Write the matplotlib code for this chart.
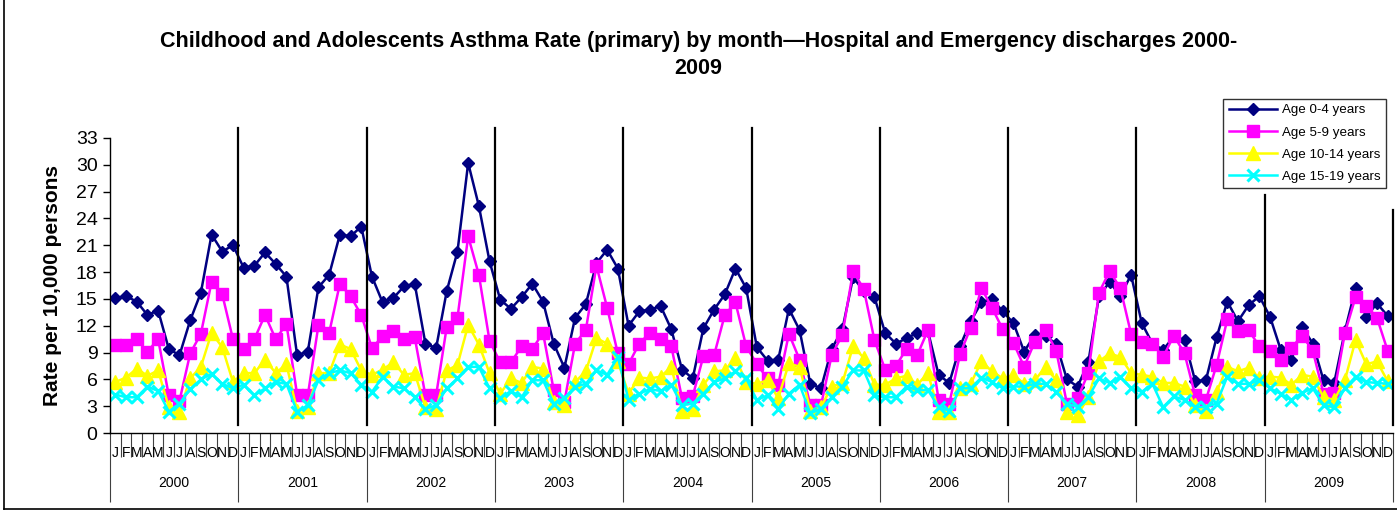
"""
儿童及青少年哮喘率(按月) 2000-2009 折线图
"""
import numpy as np
import matplotlib
matplotlib.use('Agg')
from matplotlib import pyplot as plt
from matplotlib.lines import Line2D

plt.rcParams['font.family'] = ['Liberation Sans', 'DejaVu Sans']

# 数据
years = ['2000', '2001', '2002', '2003', '2004', '2005', '2006', '2007', '2008', '2009']
monthLetters = ['J', 'F', 'M', 'A', 'M', 'J', 'J', 'A', 'S', 'O', 'N', 'D']
seriesNames = ['Age 0-4 years', 'Age 5-9 years', 'Age 10-14 years', 'Age 15-19 years']
yTicks = [0, 3, 6, 9, 12, 15, 18, 21, 24, 27, 30, 33]

age0_4 = [
    15.1, 15.3, 14.7, 13.2, 13.7, 9.4, 8.7, 12.6, 15.7, 22.2, 20.3, 21.0,
    18.5, 18.7, 20.2, 18.9, 17.5, 8.7, 9.1, 16.3, 17.7, 22.2, 22.0, 23.1,
    17.5, 14.6, 15.1, 16.4, 16.7, 10.0, 9.5, 15.9, 20.3, 30.2, 25.4, 19.2,
    14.9, 13.9, 15.2, 16.7, 14.7, 10.0, 7.3, 12.9, 14.4, 19.0, 20.5, 18.4,
    12.0, 13.6, 13.8, 14.2, 11.6, 7.1, 6.1, 11.7, 13.8, 15.5, 18.4, 16.2,
    9.6, 8.1, 8.2, 13.9, 11.5, 5.5, 5.0, 9.4, 11.6, 17.4, 15.9, 15.2,
    11.2, 10.0, 10.6, 11.2, 11.4, 6.5, 5.6, 9.7, 12.5, 14.6, 15.0, 13.6,
    12.3, 9.1, 11.0, 10.8, 10.0, 6.0, 5.2, 7.9, 15.3, 16.9, 15.3, 17.7,
    12.3, 10.0, 9.3, 10.8, 10.4, 5.8, 5.9, 10.7, 14.7, 12.5, 14.3, 15.3,
    13.0, 9.3, 8.2, 11.9, 10.0, 5.9, 5.6, 11.4, 16.2, 13.0, 14.5, 13.1,
]
age5_9 = [
    9.9, 9.8, 10.5, 9.1, 10.5, 4.2, 3.6, 8.9, 11.1, 16.9, 15.5, 10.5,
    9.4, 10.5, 13.2, 10.5, 12.2, 4.3, 4.2, 12.1, 11.2, 16.7, 15.3, 13.2,
    9.5, 10.8, 11.4, 10.5, 10.7, 4.2, 4.2, 11.9, 12.9, 22.0, 17.7, 10.3,
    7.9, 7.9, 9.7, 9.4, 11.2, 4.8, 3.5, 10.0, 11.5, 18.7, 14.0, 8.9,
    7.7, 10.0, 11.2, 10.5, 9.7, 3.9, 4.1, 8.6, 8.7, 13.2, 14.6, 9.7,
    7.7, 6.1, 5.4, 11.1, 8.2, 3.1, 3.1, 8.7, 11.0, 18.1, 16.1, 10.4,
    7.1, 7.5, 9.4, 8.7, 11.5, 3.7, 3.3, 8.8, 11.8, 16.2, 14.0, 11.6,
    10.1, 7.4, 10.2, 11.5, 9.2, 3.3, 3.9, 6.7, 15.7, 18.1, 16.2, 11.1,
    10.2, 10.0, 8.5, 10.9, 8.9, 4.2, 3.7, 7.6, 12.7, 11.4, 11.5, 9.7,
    9.2, 8.2, 9.5, 10.9, 9.2, 4.4, 4.5, 11.2, 15.2, 14.2, 12.9, 9.2,
]
age10_14 = [
    5.7, 6.2, 7.2, 6.4, 7.0, 2.9, 2.4, 6.1, 7.4, 11.2, 9.6, 5.7,
    6.7, 6.7, 8.2, 6.7, 7.7, 2.5, 2.9, 6.7, 6.7, 9.9, 9.4, 7.0,
    6.5, 7.1, 7.9, 6.5, 6.7, 2.9, 2.7, 7.0, 7.6, 12.1, 9.9, 6.7,
    4.4, 6.1, 5.6, 7.4, 7.2, 3.5, 3.1, 5.7, 6.9, 10.6, 10.0, 8.0,
    4.4, 6.2, 6.1, 6.3, 7.4, 2.5, 2.7, 5.4, 6.9, 7.0, 8.4, 5.7,
    5.5, 5.9, 3.9, 7.8, 7.4, 2.5, 2.9, 5.2, 5.6, 9.7, 8.4, 5.4,
    5.4, 6.1, 6.4, 5.4, 6.7, 2.4, 2.4, 5.0, 5.5, 8.0, 6.9, 6.1,
    6.5, 5.5, 5.9, 7.4, 5.9, 2.4, 2.0, 4.0, 8.0, 8.9, 8.5, 6.7,
    6.5, 6.3, 5.6, 5.6, 5.2, 3.1, 2.5, 4.6, 7.4, 6.9, 7.3, 6.1,
    6.3, 6.2, 5.4, 6.5, 6.3, 4.0, 3.7, 5.9, 10.4, 7.7, 8.0, 5.8,
]
age15_19 = [
    4.3, 4.0, 4.0, 5.2, 4.7, 2.4, 3.3, 4.9, 6.0, 6.6, 5.5, 5.0,
    5.4, 4.2, 5.0, 5.7, 5.5, 2.4, 3.1, 5.9, 6.7, 7.0, 6.7, 5.4,
    4.6, 6.3, 5.2, 5.0, 4.0, 2.7, 3.1, 5.0, 6.1, 7.4, 7.4, 5.0,
    3.9, 4.7, 4.0, 5.9, 5.9, 3.3, 3.9, 5.2, 5.5, 7.0, 6.5, 8.5,
    3.7, 4.4, 4.9, 4.7, 5.4, 3.1, 3.3, 4.4, 5.7, 6.1, 6.9, 6.1,
    3.7, 4.2, 2.7, 4.4, 5.4, 2.2, 2.7, 4.0, 5.2, 7.0, 7.0, 4.2,
    4.0, 4.0, 5.2, 4.8, 4.8, 2.9, 2.5, 5.0, 5.0, 6.2, 5.7, 5.0,
    5.2, 5.2, 5.5, 5.5, 4.6, 3.3, 2.9, 4.0, 6.1, 5.6, 6.3, 5.0,
    4.6, 5.5, 2.9, 4.1, 3.7, 2.9, 2.9, 3.3, 6.3, 5.5, 5.5, 5.9,
    5.0, 4.4, 3.7, 4.5, 5.0, 3.1, 2.9, 5.0, 6.3, 5.7, 5.6, 5.5,
]

# 样式
styles = [
    dict(color='#000080', marker='D', ms=6.5),
    dict(color='#FF00FF', marker='s', ms=9),
    dict(color='#FFFF00', marker='^', ms=9.5),
    dict(color='#00FFFF', marker='x', ms=9, mew=2.2),
]

fig = plt.figure(figsize=(13.97, 5.12), dpi=100)
ax = fig.add_axes([110 / 1397, 1 - 433 / 512, 1283 / 1397, 295 / 512])

nMonth = len(years) * 12
x = np.arange(nMonth)
for name, vals, st in zip(seriesNames, [age0_4, age5_9, age10_14, age15_19], styles):
    ax.plot(x, vals, lw=1.8, label=name, **st)

ax.set_xlim(-0.5, nMonth - 0.5)
ax.set_ylim(0, 33)
ax.set_yticks(yTicks)
ax.tick_params(axis='y', labelsize=14, length=5, width=1, direction='out', pad=4)
ax.set_ylabel('Rate per 10,000 persons', fontsize=15, fontweight='bold', labelpad=10)

for sp in ['top', 'right']:
    ax.spines[sp].set_visible(False)
ax.spines['left'].set_linewidth(1)
ax.spines['bottom'].set_linewidth(1)

# 横轴: 月份 + 年份两级标签
yearEdges = np.arange(0, nMonth + 1, 12) - 0.5
monthEdges = [e for e in np.arange(nMonth + 1) - 0.5 if e not in yearEdges]
ax.set_xticks(yearEdges)
ax.set_xticks(monthEdges, minor=True)
ax.tick_params(axis='x', which='major', length=50, width=0.8, color='#404040', labelbottom=False)
ax.tick_params(axis='x', which='minor', length=17, width=0.8, color='#404040', labelbottom=False)
trans = ax.get_xaxis_transform()
for i in range(nMonth):
    ax.text(i, -0.068, monthLetters[i % 12], transform=trans, ha='center', va='center',
            fontsize=10, clip_on=False)
for k, yr in enumerate(years):
    ax.text(k * 12 + 5.5, -0.17, yr, transform=trans, ha='center', va='center',
            fontsize=10, clip_on=False)

# 年份分隔线 (手绘竖线)
for k in range(1, len(years) + 1):
    top = 34.1
    if k == len(years) - 1:
        top = 26.6
    elif k == len(years):
        top = 25.0
    ax.plot([k * 12 - 0.5, k * 12 - 0.5], [0.9, top], color='black', lw=1.6,
            clip_on=False, zorder=5)

ax.legend(loc='lower right', bbox_to_anchor=(1386 / 1397, 1 - 188 / 512),
          bbox_transform=fig.transFigure, borderaxespad=0, fontsize=9.6,
          frameon=True, fancybox=False, edgecolor='black', handlelength=3.6,
          handletextpad=0.4, labelspacing=0.73, borderpad=0.4)
leg = ax.get_legend()
leg.get_frame().set_linewidth(1)

fig.text(0.5, 1 - 41 / 512, 'Childhood and Adolescents Asthma Rate (primary) by month\u2014Hospital and Emergency discharges 2000-',
         ha='center', va='center', fontsize=15.5, fontweight='bold')
fig.text(0.5, 1 - 69 / 512, '2009', ha='center', va='center', fontsize=15.5, fontweight='bold')

# 图表外框
fig.add_artist(Line2D([4 / 1397, 4 / 1397], [3 / 512, 1], color='black', lw=1.2))
fig.add_artist(Line2D([4 / 1397, 1], [3 / 512, 3 / 512], color='black', lw=1.2))

fig.savefig('out.png', dpi=100)
